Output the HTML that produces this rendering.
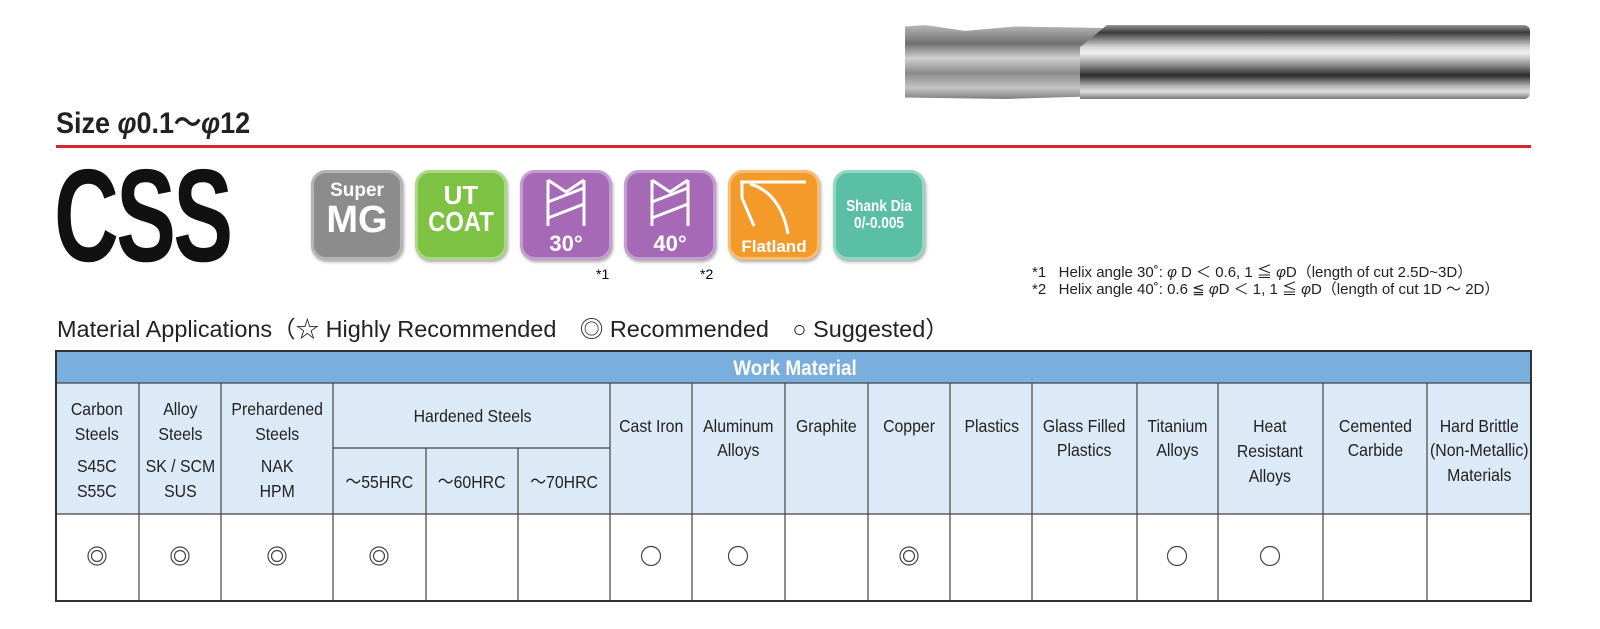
<!DOCTYPE html>
<html><head><meta charset="utf-8"><style>
body{margin:0;background:#fff;width:1600px;height:629px;overflow:hidden;position:relative;font-family:"Liberation Sans",sans-serif}
.a{position:absolute}
.b{position:absolute;top:170px;width:92px;height:90px;border-radius:15px;color:#fff;text-align:center;font-weight:bold;box-shadow:inset 0 0 0 3px rgba(255,255,255,.35),1px 2px 3px rgba(0,0,0,.35)}
</style></head><body>
<div class="a" style="left:905px;top:25px;width:200px;height:74px;background:linear-gradient(180deg,#b8b8b8 0%,#707070 25%,#d0d0d0 45%,#8a8a8a 65%,#c4c4c4 85%,#808080 100%);clip-path:polygon(0 2%,10% 0,30% 8%,55% 2%,100% 4%,100% 96%,50% 100%,0 98%)"></div>
<div class="a" style="left:1080px;top:25px;width:450px;height:74px;border-radius:0 6px 6px 0;background:linear-gradient(180deg,#9a9a9a 0%,#3a3a3a 10%,#d8d8d8 30%,#f0f0f0 38%,#888 55%,#2a2a2a 68%,#b0b0b0 82%,#e0e0e0 90%,#777 100%);clip-path:polygon(6% 0,100% 0,100% 100%,0 100%,0 30%)"></div>
<div class="a" style="left:56px;top:98px;font-size:30px;font-weight:bold;color:#222;transform:scaleX(.9);transform-origin:left">Size <i>φ</i>0.1～<i>φ</i>12</div>
<div class="a" style="left:56px;top:145px;width:1475px;height:3px;background:#d9252f"></div>
<div class="a" style="left:54px;top:140px;font-size:132px;font-weight:bold;color:#111;transform:scaleX(.68);transform-origin:left;letter-spacing:-4px">CSS</div>
<div class="b" style="left:311px;background:#8c8c8c"><div style="font-size:19px;margin-top:10px">Super</div><div style="font-size:38px;line-height:36px">MG</div></div>
<div class="b" style="left:415px;background:#7dc243"><div style="font-size:26px;margin-top:12px;line-height:26px">UT</div><div style="font-size:28px;line-height:28px;transform:scaleX(.85)">COAT</div></div>
<div class="b" style="left:520px;background:#a569b5"><svg width="92" height="90"><path d="M28 10 L46 22 L64 10 M28 10 V56 M64 10 V56 M28 32 L64 18 M28 48 L64 34" stroke="#fff" stroke-width="3" fill="none"/><text x="46" y="81" fill="#fff" font-size="22" font-weight="bold" text-anchor="middle" font-family="Liberation Sans">30°</text></svg></div>
<div class="b" style="left:624px;background:#a569b5"><svg width="92" height="90"><path d="M28 10 L46 22 L64 10 M28 10 V56 M64 10 V56 M28 32 L64 18 M28 48 L64 34" stroke="#fff" stroke-width="3" fill="none"/><text x="46" y="81" fill="#fff" font-size="22" font-weight="bold" text-anchor="middle" font-family="Liberation Sans">40°</text></svg></div>
<div class="b" style="left:728px;background:#f39a2a"><svg width="92" height="90"><path d="M12 12 H78 M14 12 V28 L26 56 M22 14 C44 20 56 40 60 64" stroke="#fff" stroke-width="3" fill="none"/><text x="46" y="82" fill="#fff" font-size="17" text-anchor="middle" font-family="Liberation Sans">Flatland</text></svg></div>
<div class="b" style="left:833px;background:#5bbfa6"><div style="font-size:16px;margin-top:28px;line-height:17px;transform:scaleX(.85)">Shank Dia<br>0/-0.005</div></div>
<div class="a" style="left:596px;top:266px;font-size:14px">*1</div>
<div class="a" style="left:700px;top:266px;font-size:14px">*2</div>
<div class="a" style="left:1032px;top:264px;font-size:15px;line-height:17px;color:#222;white-space:pre">*1   Helix angle 30˚: <i>φ</i> D ＜ 0.6, 1 ≦ <i>φ</i>D（length of cut 2.5D~3D）
*2   Helix angle 40˚: 0.6 ≦ <i>φ</i>D ＜ 1, 1 ≦ <i>φ</i>D（length of cut 1D ～ 2D）</div>
<div class="a" style="left:57px;top:310px;font-size:23px;color:#222;transform:scaleX(1.02);transform-origin:left;white-space:nowrap">Material Applications（☆ Highly Recommended　◎ Recommended　○ Suggested）</div>
<svg class="a" style="left:0;top:0" width="1600" height="629" font-family="Liberation Sans" font-size="18" fill="#222">
<rect x="56" y="351" width="1475" height="32" fill="#7aaedc"/>
<rect x="56" y="383" width="1475" height="131" fill="#dce9f6"/>
<text x="795" y="375" fill="#fff" font-weight="bold" font-size="21" text-anchor="middle" transform="translate(795,0) scale(.9,1) translate(-795,0)">Work Material</text>
<g stroke="#444" stroke-width="1.2">
<line x1="56" y1="383" x2="1531" y2="383"/><line x1="56" y1="514" x2="1531" y2="514"/><line x1="333" y1="448" x2="610" y2="448"/>
<line x1="139" y1="383" x2="139" y2="600"/><line x1="221" y1="383" x2="221" y2="600"/><line x1="333" y1="383" x2="333" y2="600"/>
<line x1="426" y1="448" x2="426" y2="600"/><line x1="518" y1="448" x2="518" y2="600"/><line x1="610" y1="383" x2="610" y2="600"/>
<line x1="692" y1="383" x2="692" y2="600"/><line x1="785" y1="383" x2="785" y2="600"/><line x1="868" y1="383" x2="868" y2="600"/>
<line x1="950" y1="383" x2="950" y2="600"/><line x1="1032" y1="383" x2="1032" y2="600"/><line x1="1137" y1="383" x2="1137" y2="600"/>
<line x1="1218" y1="383" x2="1218" y2="600"/><line x1="1323" y1="383" x2="1323" y2="600"/><line x1="1427" y1="383" x2="1427" y2="600"/>
</g>
<rect x="56" y="351" width="1475" height="250" fill="none" stroke="#333" stroke-width="2"/>
<g text-anchor="middle" font-size="18">
<g transform="scale(.88,1)">
<text x="110" y="415">Carbon</text><text x="110" y="440">Steels</text><text x="110" y="472">S45C</text><text x="110" y="497">S55C</text>
<text x="205" y="415">Alloy</text><text x="205" y="440">Steels</text><text x="205" y="472">SK / SCM</text><text x="205" y="497">SUS</text>
<text x="315" y="415">Prehardened</text><text x="315" y="440">Steels</text><text x="315" y="472">NAK</text><text x="315" y="497">HPM</text>
<text x="537" y="422">Hardened Steels</text>
<text x="431" y="488">～55HRC</text><text x="536" y="488">～60HRC</text><text x="641" y="488">～70HRC</text>
<text x="740" y="432">Cast Iron</text>
<text x="839" y="432">Aluminum</text><text x="839" y="456">Alloys</text>
<text x="939" y="432">Graphite</text>
<text x="1033" y="432">Copper</text>
<text x="1127" y="432">Plastics</text>
<text x="1232" y="432">Glass Filled</text><text x="1232" y="456">Plastics</text>
<text x="1338" y="432">Titanium</text><text x="1338" y="456">Alloys</text>
<text x="1443" y="432">Heat</text><text x="1443" y="457">Resistant</text><text x="1443" y="482">Alloys</text>
<text x="1563" y="432">Cemented</text><text x="1563" y="456">Carbide</text>
<text x="1681" y="432">Hard Brittle</text><text x="1681" y="456">(Non-Metallic)</text><text x="1681" y="481">Materials</text>
</g></g>
<g fill="none" stroke="#444" stroke-width="1.2">
<circle cx="97" cy="556" r="9"/><circle cx="97" cy="556" r="5.5"/>
<circle cx="180" cy="556" r="9"/><circle cx="180" cy="556" r="5.5"/>
<circle cx="277" cy="556" r="9"/><circle cx="277" cy="556" r="5.5"/>
<circle cx="379" cy="556" r="9"/><circle cx="379" cy="556" r="5.5"/>
<circle cx="651" cy="556" r="9.5"/>
<circle cx="738" cy="556" r="9.5"/>
<circle cx="909" cy="556" r="9"/><circle cx="909" cy="556" r="5.5"/>
<circle cx="1177" cy="556" r="9.5"/>
<circle cx="1270" cy="556" r="9.5"/>
</g>
</svg>
</body></html>
